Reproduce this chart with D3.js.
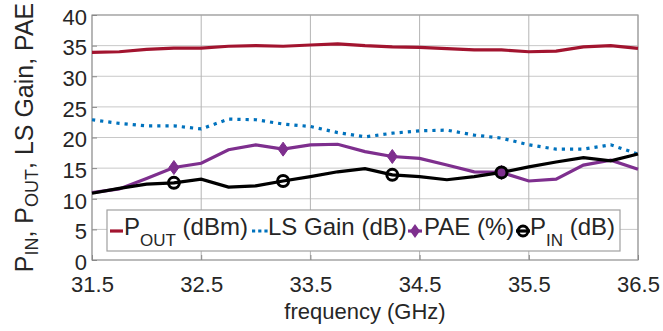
<!DOCTYPE html>
<meta charset="utf-8">
<style>
body { margin: 0; background: #fff; }
text { font-family: "Liberation Sans", Arial, sans-serif; fill: #262626; }
.grid line { stroke: #c8c8c8; stroke-width: 1; }
.gridx line { stroke: #b4b4b4; stroke-width: 1; }
</style>
<body>
<svg width="663" height="331"></svg>
<script src="https://d3js.org/d3.v7.min.js"></script>
<script>

var freq = [31.5, 31.75, 32, 32.25, 32.5, 32.75, 33, 33.25, 33.5, 33.75, 34,
            34.25, 34.5, 34.75, 35, 35.25, 35.5, 35.75, 36, 36.25, 36.5];
var pout = [33.9, 34.0, 34.4, 34.6, 34.6, 34.9, 35.0, 34.9, 35.1, 35.3, 35.0,
            34.8, 34.7, 34.5, 34.3, 34.3, 34.0, 34.1, 34.8, 35.0, 34.55];
var gain = [22.9, 22.3, 21.9, 21.9, 21.4, 23.0, 22.9, 22.2, 21.8, 20.8, 20.1,
            20.7, 21.1, 21.2, 20.4, 19.9, 18.8, 18.1, 18.1, 18.8, 17.3];
var pae  = [11.0, 11.6, 13.3, 15.1, 15.8, 18.0, 18.8, 18.1, 18.8, 18.9, 17.7,
            16.9, 16.6, 15.5, 14.4, 14.3, 12.9, 13.2, 15.5, 16.3, 14.8];
var pin  = [10.9, 11.7, 12.4, 12.6, 13.2, 11.9, 12.1, 12.9, 13.6, 14.4, 14.9,
            13.9, 13.6, 13.1, 13.6, 14.3, 15.2, 16.0, 16.7, 16.2, 17.3];
var xTicks = [31.5, 32.5, 33.5, 34.5, 35.5, 36.5];
var yTicks = [0, 5, 10, 15, 20, 25, 30, 35, 40];
var markerIdx = [3, 7, 11, 15];

var svg = d3.select("svg"),
    margin = {top: 15, right: 25, bottom: 71, left: 92},
    width = +svg.attr("width") - margin.left - margin.right,
    height = +svg.attr("height") - margin.top - margin.bottom;

var x = d3.scaleLinear().domain([31.5, 36.5]).range([0, width]);
var y = d3.scaleLinear().domain([0, 40]).range([height, 0]);

var g = svg.append("g").attr("transform", "translate(" + margin.left + "," + margin.top + ")");

// grid
g.append("g").attr("class", "grid")
  .selectAll("line").data(yTicks).enter().append("line")
    .attr("x1", 0).attr("x2", width)
    .attr("y1", function(d) { return y(d); }).attr("y2", function(d) { return y(d); });
g.append("g").attr("class", "gridx")
  .selectAll("line").data(xTicks).enter().append("line")
    .attr("y1", 0).attr("y2", height)
    .attr("x1", function(d) { return x(d); }).attr("x2", function(d) { return x(d); });

// frame
g.append("rect").attr("width", width).attr("height", height)
  .attr("fill", "none").attr("stroke", "#a0a0a0").attr("stroke-width", 1.2);

// axes
var xAxis = g.append("g").attr("transform", "translate(0," + height + ")")
  .call(d3.axisBottom(x).tickValues(xTicks).tickSize(-5).tickPadding(16).tickFormat(d3.format(".1f")));
var yAxis = g.append("g")
  .call(d3.axisLeft(y).tickValues(yTicks).tickSize(-5).tickPadding(5));
[xAxis, yAxis].forEach(function(a) {
  a.select(".domain").remove();
  a.selectAll(".tick line").attr("stroke", "#888");
  a.selectAll("text").attr("font-size", 22).attr("fill", "#262626")
    .attr("font-family", "Liberation Sans, Arial, sans-serif");
});
yAxis.selectAll("text").attr("dy", "0.42em");

// axis titles
svg.append("text")
  .attr("x", margin.left + width / 2).attr("y", 319)
  .attr("text-anchor", "middle").attr("font-size", 22)
  .text("frequency (GHz)");

var yt = svg.append("text")
  .attr("transform", "translate(33," + (margin.top + height / 2) + ") rotate(-90)")
  .attr("text-anchor", "middle").attr("font-size", 25);
yt.append("tspan").text("P");
yt.append("tspan").attr("font-size", 18).attr("dy", 5).text("IN");
yt.append("tspan").attr("dy", -5).text(", P");
yt.append("tspan").attr("font-size", 18).attr("dy", 5).text("OUT");
yt.append("tspan").attr("dy", -5).text(", LS Gain, PAE");

// series
var line = d3.line()
  .x(function(d, i) { return x(freq[i]); })
  .y(function(d) { return y(d); });

var plot = g.append("g");
plot.append("path").datum(pout).attr("d", line)
  .attr("fill", "none").attr("stroke", "#A2142F").attr("stroke-width", 3.2);
plot.append("path").datum(gain).attr("d", line)
  .attr("fill", "none").attr("stroke", "#0072BD").attr("stroke-width", 3.2)
  .attr("stroke-dasharray", "3.2,5");
plot.append("path").datum(pae).attr("d", line)
  .attr("fill", "none").attr("stroke", "#7E2F8E").attr("stroke-width", 3.2);
plot.append("path").datum(pin).attr("d", line)
  .attr("fill", "none").attr("stroke", "#000").attr("stroke-width", 3.2);

var diamond = "M0,-7L5,0L0,7L-5,0Z";
plot.selectAll(".pae-m").data(markerIdx).enter().append("path")
  .attr("d", diamond).attr("fill", "#7E2F8E").attr("stroke", "#7E2F8E").attr("stroke-width", 1)
  .attr("transform", function(i) { return "translate(" + x(freq[i]) + "," + y(pae[i]) + ")"; });
plot.selectAll(".pin-m").data(markerIdx).enter().append("circle")
  .attr("cx", function(i) { return x(freq[i]); })
  .attr("cy", function(i) { return y(pin[i]); })
  .attr("r", 5.5).attr("fill", "none").attr("stroke", "#000").attr("stroke-width", 3);

// legend
var leg = svg.append("g");
leg.append("rect").attr("x", 107).attr("y", 210).attr("width", 513).attr("height", 41)
  .attr("fill", "#fff").attr("stroke", "#a0a0a0").attr("stroke-width", 1.2);

var ly = 231;
function legText(xp, main, sub, rest) {
  var t = leg.append("text").attr("x", xp).attr("y", 235).attr("font-size", 24).attr("fill", "#000");
  t.append("tspan").text(main);
  if (sub) {
    t.append("tspan").attr("font-size", 17).attr("dy", 11).text(sub);
    t.append("tspan").attr("dy", -11).text(rest);
  }
  return t;
}
leg.append("line").attr("x1", 110).attr("x2", 123).attr("y1", ly).attr("y2", ly)
  .attr("stroke", "#A2142F").attr("stroke-width", 3.2);
legText(124, "P", "OUT", " (dBm)");
leg.append("line").attr("x1", 252).attr("x2", 268).attr("y1", ly).attr("y2", ly)
  .attr("stroke", "#0072BD").attr("stroke-width", 3.2).attr("stroke-dasharray", "3.2,3");
legText(268, "LS Gain (dB)");
leg.append("line").attr("x1", 408).attr("x2", 422).attr("y1", ly).attr("y2", ly)
  .attr("stroke", "#7E2F8E").attr("stroke-width", 3.2);
leg.append("path").attr("d", diamond).attr("fill", "#7E2F8E")
  .attr("transform", "translate(415," + ly + ")");
legText(424, "PAE (%)");
leg.append("line").attr("x1", 516).attr("x2", 530).attr("y1", ly).attr("y2", ly)
  .attr("stroke", "#000").attr("stroke-width", 3.2);
leg.append("circle").attr("cx", 523).attr("cy", ly).attr("r", 5)
  .attr("fill", "none").attr("stroke", "#000").attr("stroke-width", 3);
legText(530, "P", "IN", " (dB)");

</script>
</body>
